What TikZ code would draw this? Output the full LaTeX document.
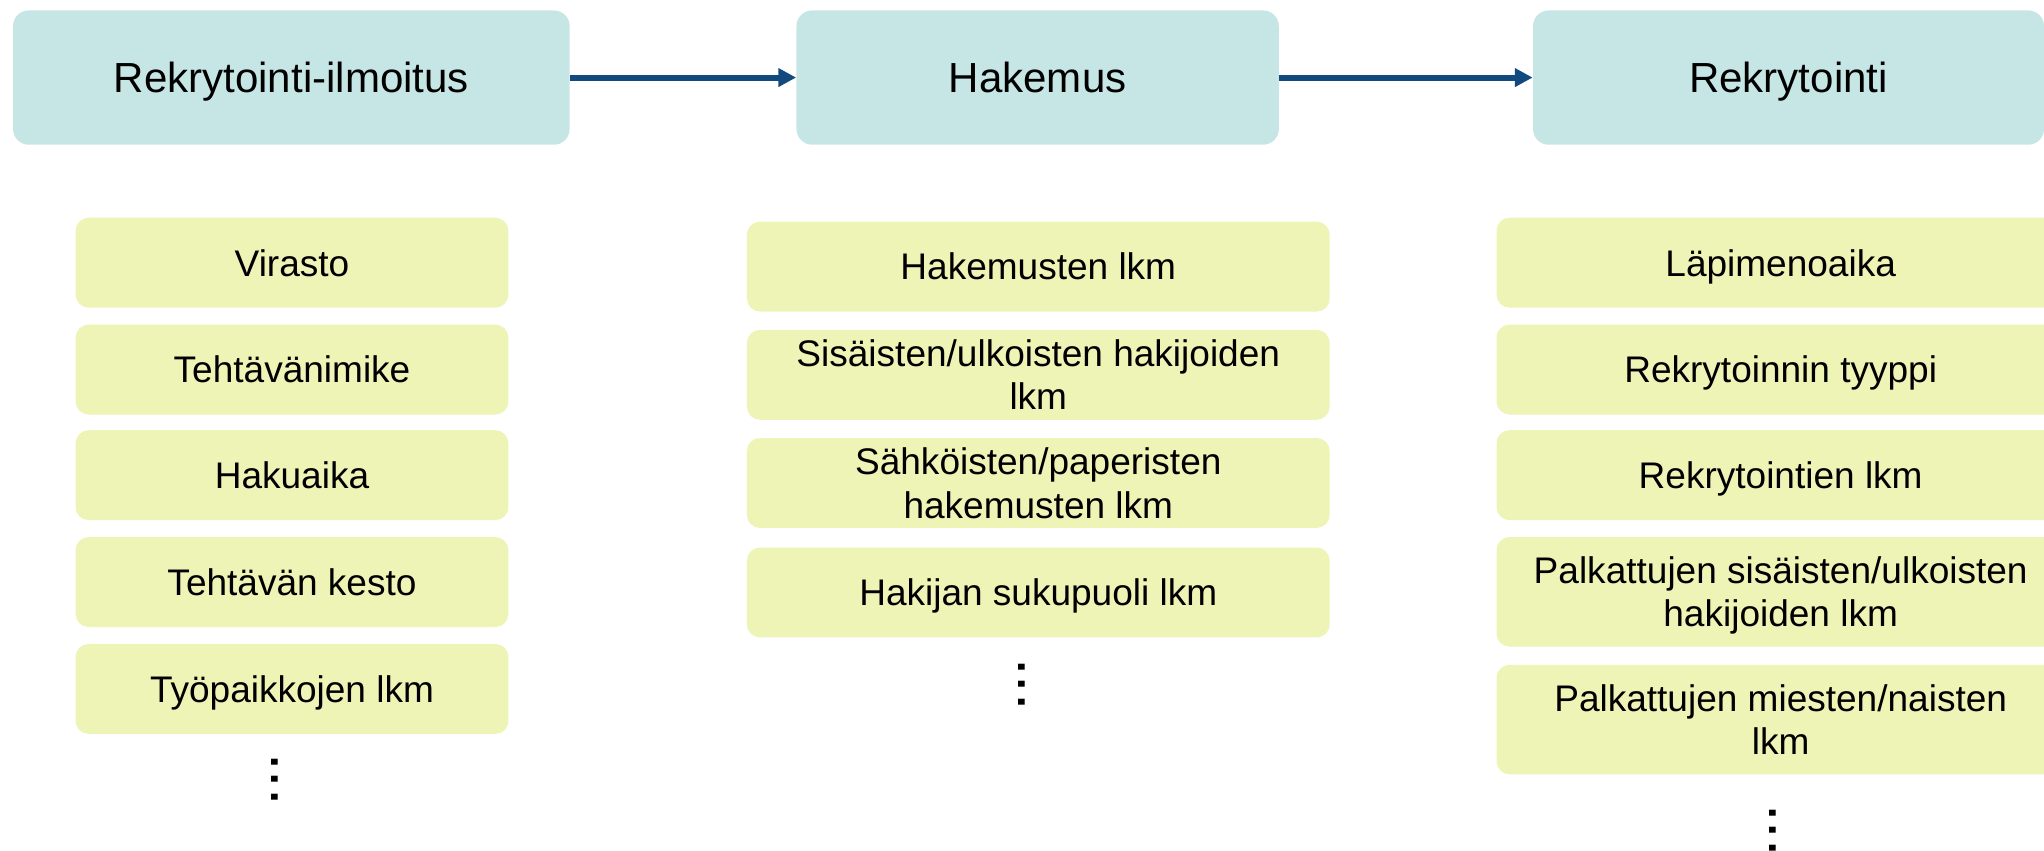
\documentclass[tikz,border=0pt]{standalone}
\usepackage{fontspec}
\setmainfont{Liberation Sans}
\usetikzlibrary{arrows.meta}

\definecolor{phasefill}{RGB}{198,230,229}
\definecolor{attrfill}{RGB}{238,243,182}
\definecolor{flowblue}{RGB}{18,74,128}

\begin{document}
\begin{tikzpicture}[x=0.75pt,y=0.75pt,yscale=-1,xscale=1,
  phase/.style={fill=phasefill, rounded corners=9pt, minimum height=77.25pt, inner sep=0pt, text depth=0pt, font=\fontsize{24.2}{29}\selectfont},
  attr/.style={fill=attrfill, rounded corners=7.5pt, minimum height=51.75pt, inner sep=0pt, text depth=0pt, align=center, font=\fontsize{21.3}{25}\selectfont},
  tall/.style={minimum height=63pt},
  flow/.style={draw=flowblue, line width=3.45pt, -{Triangle[length=10.2pt,width=10.2pt]}},
  vdots/.style={rotate=-90, inner sep=0pt, font=\fontsize{36}{36}\selectfont}]
%set diagram frame: 1568 x 652.8
\useasboundingbox (0,0) rectangle (1568,652.8);

% Phase Nodes
\node [phase, minimum width=320.25pt] (ilmoitus) at (223.5,59.5) {Rekrytointi-ilmoitus};
\node [phase, minimum width=277.5pt] (hakemus) at (796,59.5) {Hakemus};
\node [phase, minimum width=294pt] (rekry) at (1372,59.5) {Rekrytointi};

%Straight Lines
\draw [flow] (ilmoitus) -- (hakemus);
\draw [flow] (hakemus) -- (rekry);

% Attribute Nodes: Rekrytointi-ilmoitus
\node [attr, minimum width=249pt] (virasto) at (224,201.5) {Virasto};
\node [attr, minimum width=249pt] (nimike) at (224,283.5) {Tehtävänimike};
\node [attr, minimum width=249pt] (hakuaika) at (224,364.5) {Hakuaika};
\node [attr, minimum width=249pt] (kesto) at (224,446.5) {Tehtävän kesto};
\node [attr, minimum width=249pt] (tyopaikat) at (224,528.5) {Työpaikkojen lkm};
\node [vdots] (moreilm) at (211,598) {...};

% Attribute Nodes: Hakemus
\node [attr, minimum width=335.25pt] (hakemukset) at (796.5,204.5) {Hakemusten lkm};
\node [attr, minimum width=335.25pt] (sisulk) at (796.5,287.5) {Sisäisten/ulkoisten hakijoiden\\lkm};
\node [attr, minimum width=335.25pt] (sahkpap) at (796.5,370.5) {Sähköisten/paperisten\\hakemusten lkm};
\node [attr, minimum width=335.25pt] (sukupuoli) at (796.5,454.5) {Hakijan sukupuoli lkm};
\node [vdots] (morehak) at (784,525) {...};

% Attribute Nodes: Rekrytointi
\node [attr, minimum width=327pt] (lapimeno) at (1366,201.5) {Läpimenoaika};
\node [attr, minimum width=327pt] (tyyppi) at (1366,283.5) {Rekrytoinnin tyyppi};
\node [attr, minimum width=327pt] (rekrylkm) at (1366,364.5) {Rekrytointien lkm};
\node [attr, tall, minimum width=327pt] (palksisulk) at (1366,454) {Palkattujen sisäisten/ulkoisten\\hakijoiden lkm};
\node [attr, tall, minimum width=327pt] (palkmn) at (1366,552) {Palkattujen miesten/naisten\\lkm};
\node [vdots] (morerekry) at (1360,637) {...};

\end{tikzpicture}
\end{document}
